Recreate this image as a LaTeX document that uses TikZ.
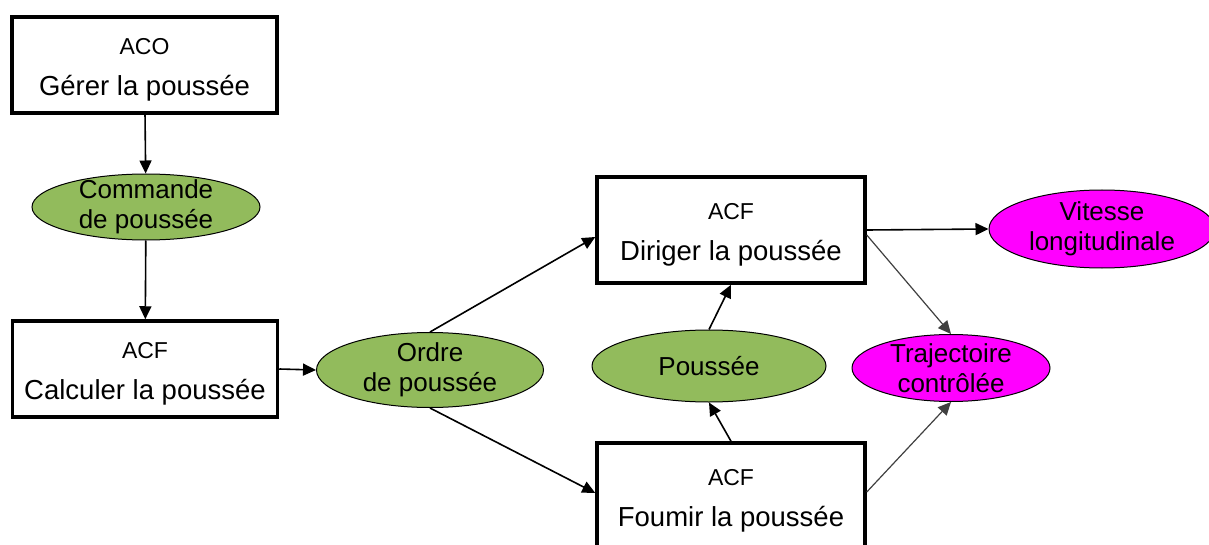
\documentclass[tikz,border=0pt]{standalone}
\usepackage{fontspec}
\setmainfont{Liberation Sans}
\usetikzlibrary{shapes.geometric,arrows.meta}

\definecolor{flowgreen}{RGB}{146,187,92}
\definecolor{flowmagenta}{RGB}{255,0,255}

% first line of a function box
\newcommand{\fhead}[1]{{\fontsize{23}{41}\selectfont\rule{0pt}{26pt}#1}}

\begin{document}
\begin{tikzpicture}[
    x=1pt, y=-1pt,
    func/.style={rectangle, draw, line width=3.5pt, minimum width=265pt, align=center,
        font=\fontsize{27.5}{41}\selectfont},
    flow/.style={ellipse, draw, line width=1pt, inner sep=0pt},
    flowtext/.style={align=center, font=\fontsize{26}{30}\selectfont},
    arr/.style={-{Triangle[length=13pt,width=12pt]}, line width=1.6pt},
    thin arr/.style={-{Triangle[length=13pt,width=12pt]}, line width=1.2pt, black!75}
]
    \useasboundingbox (0,0) rectangle (1209,545);

    \node[func, minimum height=96pt] (ACO) at (144.5,65) {\fhead{ACO}\\G\'erer la pouss\'ee};
    \node[func, minimum height=96pt] (CAL) at (145,369) {\fhead{ACF}\\Calculer la pouss\'ee};
    \node[func, minimum width=268pt, minimum height=106pt] (DIR) at (731,230) {\fhead{ACF}\\Diriger la pouss\'ee};
    \node[func, minimum width=268pt, minimum height=106pt] (FOU) at (731,496) {\fhead{ACF}\\Foumir la pouss\'ee};

    \node[flow, fill=flowgreen, minimum width=228pt, minimum height=66pt,
        label={[flowtext]center:Commande\\de pouss\'ee}] (CMD) at (146,207) {};
    \node[flow, fill=flowgreen, minimum width=227pt, minimum height=75pt,
        label={[flowtext]center:Ordre\\de pouss\'ee}] (ORD) at (430,370) {};
    \node[flow, fill=flowgreen, minimum width=234pt, minimum height=72pt,
        label={[flowtext]center:Pouss\'ee}] (POU) at (709,366) {};
    \node[flow, fill=flowmagenta, minimum width=198pt, minimum height=67pt,
        label={[flowtext]center:Trajectoire\\contr\^ol\'ee}] (TRA) at (951,368) {};
    \node[flow, fill=flowmagenta, minimum width=226pt, minimum height=78pt,
        label={[flowtext]center:Vitesse\\longitudinale}] (VIT) at (1102,229) {};

    \draw[arr] (ACO) -- (CMD);
    \draw[arr] (CMD) -- (CAL);
    \draw[arr] (CAL.east) -- (ORD.west);

    \draw[arr] (ORD.north) -- ([yshift=-7pt]DIR.west);
    \draw[arr] (ORD.south) -- ([yshift=3pt]FOU.west);

    \draw[arr] (DIR.east) -- (VIT.west);
    \draw[thin arr] ([yshift=-5pt]DIR.east) -- (TRA.north);
    \draw[thin arr] ([yshift=4pt]FOU.east) -- (TRA.south);

    \draw[arr] (POU.north) -- (DIR.south);
    \draw[arr] (FOU.north) -- (POU.south);

\end{tikzpicture}
\end{document}
